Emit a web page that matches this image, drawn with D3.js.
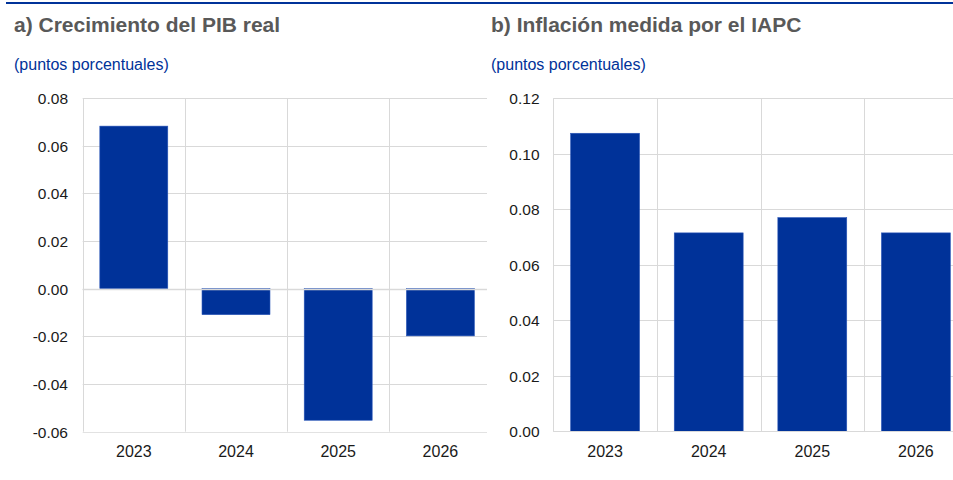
<!DOCTYPE html>
<html><head><meta charset="utf-8">
<script src="https://cdn.jsdelivr.net/npm/d3@7/dist/d3.min.js"></script>
<style>
html,body{margin:0;padding:0;background:#fff;}
svg{display:block;font-family:"Liberation Sans",Arial,sans-serif;}
svg text{font-family:"Liberation Sans",Arial,sans-serif;}
</style></head>
<body><svg id="c" width="953" height="480"></svg>
<script>
const categories = ["2023","2024","2025","2026"];
const gdpValues = [0.0682, -0.0109, -0.0552, -0.0198];
const hicpValues = [0.1074, 0.0715, 0.0770, 0.0715];
const gdpTicks = [-0.06,-0.04,-0.02,0,0.02,0.04,0.06,0.08];
const hicpTicks = [0,0.02,0.04,0.06,0.08,0.10,0.12];
const titles = ["a) Crecimiento del PIB real","b) Inflación medida por el IAPC"];
const subtitle = "(puntos porcentuales)";

const svg = d3.select("#c");
const BLUE = "#003299";
const GRID = "#d9d9d9";
const fmt = d => d3.format(".2f")(d).replace("\u2212","-");

svg.append("rect").attr("x",6).attr("y",2).attr("width",947).attr("height",2).attr("fill",BLUE);

function panel(opts){
  const g = svg.append("g");
  g.append("text").attr("x",opts.tx).attr("y",32).attr("font-size",21).attr("font-weight","bold")
    .attr("fill","#595959").text(opts.title);
  g.append("text").attr("x",opts.tx).attr("y",70).attr("font-size",16)
    .attr("fill",BLUE).text(subtitle);
  const x = d3.scaleBand().domain(categories).range([opts.left, opts.left + opts.band*4]).paddingInner(0).paddingOuter(0);
  const y = d3.scaleLinear().domain(opts.domain).range([opts.bottom, opts.top]);
  const clipId = "clip"+opts.id;
  svg.append("clipPath").attr("id",clipId).append("rect")
    .attr("x",opts.left-1).attr("y",opts.top-1).attr("width",opts.clipRight-opts.left+1).attr("height",opts.bottom-opts.top+2);
  const plot = g.append("g").attr("clip-path",`url(#${clipId})`);
  plot.selectAll(".hg").data(opts.ticks).join("line")
    .attr("x1",opts.left).attr("x2",opts.left+opts.band*4)
    .attr("y1",d=>Math.round(y(d))+0.5).attr("y2",d=>Math.round(y(d))+0.5)
    .attr("stroke",GRID).attr("stroke-width",1);
  plot.selectAll(".vg").data(categories.slice(1)).join("line")
    .attr("x1",d=>Math.round(x(d))+0.5).attr("x2",d=>Math.round(x(d))+0.5)
    .attr("y1",opts.top).attr("y2",opts.bottom)
    .attr("stroke",GRID).attr("stroke-width",1);
  plot.append("line").attr("x1",Math.round(opts.left)+0.5).attr("x2",Math.round(opts.left)+0.5)
    .attr("y1",opts.top).attr("y2",opts.bottom).attr("stroke",GRID);
  const bw = x.bandwidth()*0.665;
  plot.selectAll(".bar").data(opts.values).join("rect")
    .attr("x",(d,i)=>x(categories[i]) + (x.bandwidth()-bw)/2)
    .attr("width",bw)
    .attr("y",d=>y(Math.max(0,d)))
    .attr("height",d=>Math.abs(y(d)-y(0)))
    .attr("fill",BLUE).attr("stroke","#2a56b8").attr("stroke-width",0.6);
  plot.append("line").attr("x1",opts.left).attr("x2",opts.left+opts.band*4)
    .attr("y1",Math.round(y(0))+0.5).attr("y2",Math.round(y(0))+0.5).attr("stroke",GRID).attr("stroke-width",opts.domain[0]<0?1.5:1);
  const yAxis = d3.axisLeft(y).tickValues(opts.ticks).tickSize(0).tickPadding(0).tickFormat(fmt);
  const ya = g.append("g").attr("transform",`translate(${opts.labelRight},0)`).call(yAxis);
  ya.select(".domain").remove();
  ya.attr("font-family",null).attr("font-size",null);
  ya.selectAll("text").attr("font-size",15.5).attr("fill","#1a1a1a").attr("dy","0.35em");
  const xAxis = d3.axisBottom(x).tickSize(0).tickPadding(0);
  const xa = g.append("g").attr("transform",`translate(0,${opts.bottom})`).call(xAxis);
  xa.select(".domain").remove();
  xa.attr("font-family",null).attr("font-size",null);
  xa.selectAll("text").attr("font-size",16).attr("fill","#1a1a1a").attr("dy",null).attr("y",25.5);
}

panel({id:"a",title:titles[0],tx:14,left:82.7,band:102.2,clipRight:487,top:98,bottom:431.7,
  domain:[-0.06,0.08],ticks:gdpTicks,values:gdpValues,labelRight:68});
panel({id:"b",title:titles[1],tx:491,left:553.3,band:103.6,clipRight:953,top:98.3,bottom:431.3,
  domain:[0,0.12],ticks:hicpTicks,values:hicpValues,labelRight:539.5});
</script></body></html>
